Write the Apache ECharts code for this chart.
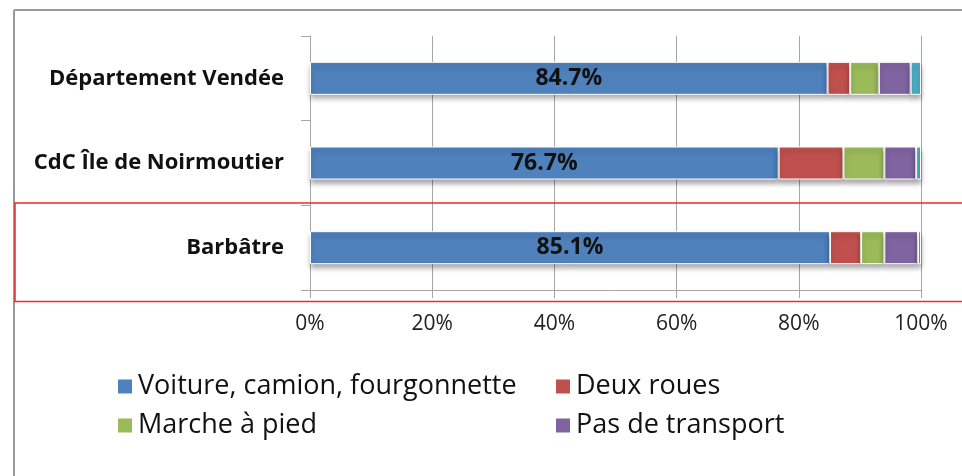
<!DOCTYPE html>
<html>
<head>
<meta charset="utf-8">
<script src="https://cdn.jsdelivr.net/npm/echarts@6/dist/echarts.min.js"></script>
<style>
  html, body { margin: 0; padding: 0; background: #fff; }
  #chart { width: 962px; height: 476px; }
</style>
</head>
<body>
<div id="chart"></div>
<script>
// Modes de transport pour se rendre au travail (parts en %)
const territoires = ['Département Vendée', 'CdC Île de Noirmoutier', 'Barbâtre'];
const voiture      = [84.7, 76.7, 85.1];
const deuxRoues    = [3.7, 10.6, 5.1];
const marche       = [4.7, 6.7, 3.8];
const pasTransport = [5.2, 5.2, 5.5];
const transportsCommun = [1.7, 0.8, 0.5];
const xTicks = [0, 20, 40, 60, 80, 100];

const FONT = '"Open Sans", Lato, sans-serif';
const GRID_GRAY = '#a6a6a6';

const segStyle = (color) => ({
  color: color,
  borderColor: '#ffffff',
  borderWidth: 1,
  shadowColor: 'rgba(0,0,0,0.35)',
  shadowBlur: 5,
  shadowOffsetY: 4
});

const mkSeries = (name, data, color, withLabel) => ({
  name: name,
  type: 'bar',
  stack: 'total',
  barWidth: 33,
  data: data,
  itemStyle: segStyle(color),
  label: withLabel ? {
    show: true,
    position: 'inside',
    formatter: (p) => p.value.toFixed(1) + '%',
    color: '#111',
    fontFamily: FONT,
    fontWeight: 'bold',
    fontSize: 23
  } : { show: false }
});

const chart = echarts.init(document.getElementById('chart'), null, { renderer: 'canvas' });

const legendText = { fontFamily: FONT, fontSize: 27, color: '#111', lineHeight: 25 };

chart.setOption({
  backgroundColor: '#ffffff',
  animation: false,
  grid: { left: 310, right: 41, top: 36, bottom: 186 },
  xAxis: {
    type: 'value',
    min: xTicks[0],
    max: xTicks[xTicks.length - 1],
    interval: 20,
    axisLine: { show: true, lineStyle: { color: GRID_GRAY, width: 1 } },
    axisTick: { show: true, length: 8, lineStyle: { color: GRID_GRAY } },
    splitLine: { show: true, lineStyle: { color: GRID_GRAY, width: 1 } },
    axisLabel: {
      formatter: '{value}%',
      color: '#222',
      fontFamily: FONT,
      fontSize: 21,
      margin: 24
    }
  },
  yAxis: {
    type: 'category',
    inverse: true,
    data: territoires,
    axisLine: { show: true, lineStyle: { color: GRID_GRAY, width: 1 } },
    axisTick: { show: true, length: 9, lineStyle: { color: GRID_GRAY } },
    axisLabel: {
      color: '#111',
      fontFamily: FONT,
      fontWeight: 'bold',
      fontSize: 22,
      margin: 26
    }
  },
  legend: [
    {
      orient: 'vertical',
      left: 116,
      top: 373,
      padding: 0,
      itemWidth: 16,
      itemHeight: 16,
      itemGap: 12,
      icon: 'rect',
      data: ['Voiture, camion, fourgonnette', 'Marche à pied'],
      textStyle: legendText
    },
    {
      orient: 'vertical',
      left: 554,
      top: 373,
      padding: 0,
      itemWidth: 16,
      itemHeight: 16,
      itemGap: 12,
      icon: 'rect',
      data: ['Deux roues', 'Pas de transport'],
      textStyle: legendText
    }
  ],
  series: [
    mkSeries('Voiture, camion, fourgonnette', voiture, '#4F81BD', true),
    mkSeries('Deux roues', deuxRoues, '#C0504D', false),
    mkSeries('Marche à pied', marche, '#9BBB59', false),
    mkSeries('Pas de transport', pasTransport, '#8064A2', false),
    mkSeries('Transports en commun', transportsCommun, '#4BACC6', false)
  ],
  graphic: [
    // cadre du graphique
    { type: 'line', shape: { x1: 14, y1: 10, x2: 962, y2: 10 },
      style: { stroke: '#9a9a9a', lineWidth: 2 }, z: 10 },
    { type: 'line', shape: { x1: 14, y1: 10, x2: 14, y2: 476 },
      style: { stroke: '#9a9a9a', lineWidth: 2 }, z: 10 },
    // encadré de la commune
    { type: 'rect', shape: { x: 15, y: 203, width: 960, height: 98.5 },
      style: { fill: 'none', stroke: '#ee2a2a', lineWidth: 1.5 }, z: 20 }
  ]
});
</script>
</body>
</html>
